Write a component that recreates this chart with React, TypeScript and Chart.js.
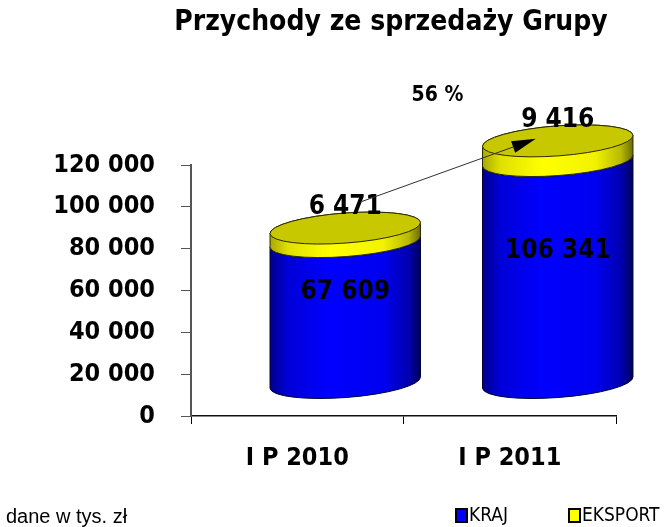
import { useEffect, useRef } from 'react';
import { Chart, registerables } from 'chart.js';

Chart.register(...registerables);

const categories = ['I P 2010', 'I P 2011'];
const seriesNames = ['KRAJ', 'EKSPORT'];
const krajValues = [67609, 106341];
const eksportValues = [6471, 9416];
const yTickValues = [0, 20000, 40000, 60000, 80000, 100000, 120000];
const growthLabel = '56 %';
const titleText = 'Przychody ze sprzedaży Grupy';
const footerText = 'dane w tys. zł';

const seriesColors = ['#0000FF', '#FFFF00'];

const COND = '"DejaVu Sans Condensed", "DejaVu Sans"';
const fmt = (v: number) => String(v).replace(/\B(?=(\d{3})+(?!\d))/g, ' ');

const DX = 48;
const DY = -33;
const RY = 15;
const ROT = -0.075;

function segment(ctx: CanvasRenderingContext2D, cx: number, rx: number, yTop: number, yBot: number, stops: [number, string][], stroke: string, upper: boolean) {
  const c = Math.cos(ROT), s = Math.sin(ROT);
  const g = ctx.createLinearGradient(cx - rx, 0, cx + rx, 0);
  stops.forEach(([o, col]) => g.addColorStop(o, col));
  ctx.beginPath();
  ctx.moveTo(cx + rx * c, yTop + rx * s);
  ctx.lineTo(cx + rx * c, yBot + rx * s);
  ctx.ellipse(cx, yBot, rx, RY, ROT, 0, Math.PI, false);
  ctx.lineTo(cx - rx * c, yTop - rx * s);
  if (upper) ctx.ellipse(cx, yTop, rx, RY, ROT, Math.PI, 2 * Math.PI, false);
  else ctx.ellipse(cx, yTop, rx, RY, ROT, Math.PI, 0, true);
  ctx.closePath();
  ctx.fillStyle = g;
  ctx.fill();
  ctx.strokeStyle = stroke;
  ctx.lineWidth = 1;
  ctx.stroke();
}

const blueStops: [number, string][] = [[0, '#00008C'], [0.12, '#0000D8'], [0.4, '#0000FF'], [0.75, '#0000F0'], [0.92, '#0000B0'], [1, '#00005A']];
const yellowStops: [number, string][] = [[0, '#A8A800'], [0.12, '#E0E000'], [0.4, '#FFFF00'], [0.75, '#F2F200'], [0.92, '#B8B800'], [1, '#6A6A00']];

const cylinderPlugin = {
  id: 'cylinders',
  beforeDatasetsDraw(chart: any) {
    const ctx: CanvasRenderingContext2D = chart.ctx;
    const m0 = chart.getDatasetMeta(0);
    const m1 = chart.getDatasetMeta(1);
    const tops: { cx: number; yTotal: number }[] = [];
    ctx.save();
    for (let i = 0; i < categories.length; i++) {
      const b = m0.data[i].getProps(['x', 'y', 'base', 'width'], true);
      const e = m1.data[i].getProps(['x', 'y', 'base', 'width'], true);
      const cx = b.x + DX;
      const rx = b.width / 2;
      const yBot = b.base + DY;
      const yMid = b.y + DY;
      const yTop = e.y + DY;
      segment(ctx, cx, rx, yMid, yBot, blueStops, '#000030', false);
      segment(ctx, cx, rx, yTop, yMid, yellowStops, '#2A2A00', true);
      ctx.beginPath();
      ctx.ellipse(cx, yTop, rx, RY, ROT, 0, 2 * Math.PI);
      ctx.fillStyle = '#C8C800';
      ctx.fill();
      ctx.strokeStyle = '#2A2A00';
      ctx.stroke();
      tops.push({ cx, yTotal: yTop });
      ctx.fillStyle = '#000';
      ctx.font = `bold 26px ${COND}`;
      ctx.textAlign = 'center';
      ctx.textBaseline = 'middle';
      ctx.fillText(fmt(krajValues[i]), cx, (yMid + yBot) / 2 - 20);
      ctx.fillText(fmt(eksportValues[i]), cx, yTop - 21);
    }
    // growth arrow
    const a = tops[0], z = tops[1];
    const x1 = a.cx + 15, y1 = a.yTotal - 26;
    const x2 = z.cx - 22, y2 = z.yTotal - 2;
    const ang = Math.atan2(y2 - y1, x2 - x1);
    const hl = 24, hw = 6;
    const bx = x2 - hl * Math.cos(ang), by = y2 - hl * Math.sin(ang);
    ctx.beginPath();
    ctx.moveTo(x1, y1);
    ctx.lineTo(bx, by);
    ctx.strokeStyle = '#303030';
    ctx.lineWidth = 1;
    ctx.stroke();
    ctx.beginPath();
    ctx.moveTo(x2, y2);
    ctx.lineTo(bx + hw * Math.sin(ang), by - hw * Math.cos(ang));
    ctx.lineTo(bx - hw * Math.sin(ang), by + hw * Math.cos(ang));
    ctx.closePath();
    ctx.fillStyle = '#000';
    ctx.fill();
    ctx.font = `bold 21px ${COND}`;
    ctx.textAlign = 'center';
    ctx.textBaseline = 'middle';
    ctx.fillText(growthLabel, (a.cx + z.cx) / 2 - 14, z.yTotal - 45);
    ctx.restore();
    return false;
  },
  afterDraw(chart: any) {
    const ctx: CanvasRenderingContext2D = chart.ctx;
    ctx.save();
    ctx.fillStyle = '#000';
    ctx.font = `bold 28px ${COND}`;
    ctx.textAlign = 'center';
    ctx.textBaseline = 'middle';
    ctx.fillText(titleText, 391, 23);
    ctx.font = '20px "Liberation Sans"';
    ctx.textAlign = 'left';
    ctx.fillText(footerText, 6, 517);
    const legendX = [456, 569];
    ctx.font = `19px ${COND}`;
    seriesNames.forEach((name, i) => {
      ctx.fillStyle = seriesColors[i];
      ctx.fillRect(legendX[i], 509, 11, 13);
      ctx.strokeStyle = '#000';
      ctx.lineWidth = 2;
      ctx.strokeRect(legendX[i], 509, 11, 13);
      ctx.fillStyle = '#000';
      ctx.fillText(name, legendX[i] + 13, 516);
    });
    ctx.restore();
  },
};

export default function App() {
  const ref = useRef<HTMLCanvasElement | null>(null);
  useEffect(() => {
    if (!ref.current) return;
    const chart = new Chart(ref.current, {
      type: 'bar',
      data: {
        labels: categories,
        datasets: [
          { label: seriesNames[0], data: krajValues, backgroundColor: seriesColors[0] },
          { label: seriesNames[1], data: eksportValues, backgroundColor: seriesColors[1] },
        ],
      },
      options: {
        animation: false,
        responsive: true,
        maintainAspectRatio: false,
        layout: { padding: { top: 165, right: 54, bottom: 0, left: 0 } },
        datasets: { bar: { barPercentage: 0.71, categoryPercentage: 1 } },
        plugins: { legend: { display: false }, title: { display: false }, tooltip: { enabled: false } },
        scales: {
          x: {
            stacked: true,
            afterFit: (s: any) => { s.height = 111; },
            grid: { offset: true, drawOnChartArea: false, drawTicks: true, tickLength: 8, color: '#000' },
            border: { display: true, color: '#111', width: 1.5 },
            ticks: { color: '#000', padding: 19, font: { family: COND, size: 25, weight: 'bold' } },
          },
          y: {
            stacked: true,
            min: 0,
            max: 120000,
            afterFit: (s: any) => { s.width = 191; },
            afterBuildTicks: (s: any) => { s.ticks = yTickValues.map((v) => ({ value: v })); },
            grid: { drawOnChartArea: false, drawTicks: true, tickLength: 10, color: '#555' },
            border: { display: true, color: '#555', width: 2 },
            ticks: {
              color: '#000',
              padding: 26,
              font: { family: COND, size: 25, weight: 'bold' },
              callback: (v: any) => fmt(Number(v)),
            },
          },
        },
      },
      plugins: [cylinderPlugin],
    } as any);
    return () => chart.destroy();
  }, []);
  return (
    <div style={{ position: 'fixed', left: 0, top: 0, width: 670, height: 527, background: '#fff' }}>
      <canvas ref={ref} />
    </div>
  );
}
